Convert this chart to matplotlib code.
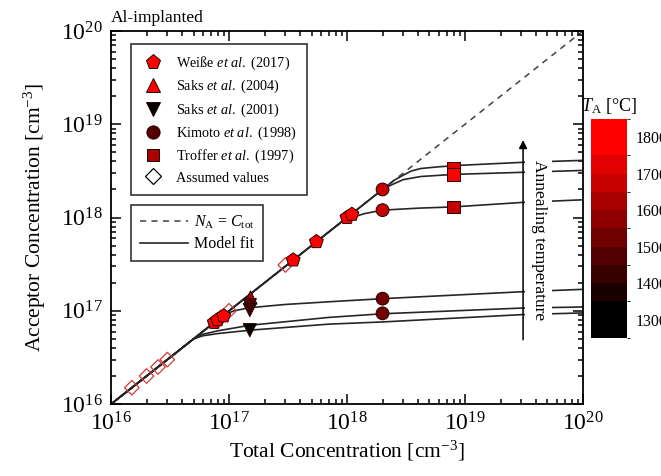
import numpy as np
import matplotlib
matplotlib.use("Agg")
import matplotlib.pyplot as plt
from matplotlib.lines import Line2D
from matplotlib.colors import ListedColormap, BoundaryNorm
from matplotlib.cm import ScalarMappable

plt.rcParams['font.family'] = ['Liberation Serif', 'DejaVu Serif']
plt.rcParams['mathtext.fontset'] = 'custom'
plt.rcParams['mathtext.rm'] = 'Liberation Serif'
plt.rcParams['mathtext.it'] = 'Liberation Serif:italic'
plt.rcParams['mathtext.bf'] = 'Liberation Serif:bold'

# Data points (total concentration, acceptor concentration, annealing temperature)
weisse_x = [7.5e16, 8.0e16, 9.0e16, 3.5e17, 5.5e17, 1.0e18, 1.1e18]
weisse_y = [7.5e16, 8.0e16, 8.8e16, 3.5e17, 5.5e17, 1.0e18, 1.08e18]
weisse_T = [1800, 1800, 1800, 1800, 1800, 1800, 1800]

saks04_x = [1.5e17]
saks04_y = [1.4e17]
saks04_T = [1600]

saks01_x = [1.5e17, 1.5e17, 1.5e17]
saks01_y = [1.15e17, 1.02e17, 6.2e16]
saks01_T = [1450, 1400, 1300]

kimoto_x = [2e18, 2e18, 2e18, 2e18]
kimoto_y = [2.0e18, 1.2e18, 1.35e17, 9.4e16]
kimoto_T = [1650, 1650, 1500, 1500]

troffer_x = [8e18, 8e18, 8e18]
troffer_y = [3.4e18, 2.9e18, 1.3e18]
troffer_T = [1700, 1800, 1650]

assumed_x = [1.5e16, 2.0e16, 2.5e16, 3.0e16, 8.5e16, 1.0e17, 3.0e17]
assumed_y = [1.5e16, 2.0e16, 2.5e16, 3.0e16, 8.5e16, 1.0e17, 3.1e17]

# Model fit curves
fit_curves = [
    ([1e16, 2.5e18, 3.0e18, 3.5e18, 4.2e18, 6e18, 1e19, 3e19, 1e20],
     [1e16, 2.5e18, 2.85e18, 3.15e18, 3.35e18, 3.5e18, 3.65e18, 3.9e18, 4.1e18]),
    ([1e16, 2.0e18, 2.4e18, 3e18, 4.2e18, 8e18, 3e19, 1e20],
     [1e16, 2.0e18, 2.25e18, 2.55e18, 2.75e18, 2.9e18, 3.05e18, 3.2e18]),
    ([1e16, 9e17, 1.1e18, 1.4e18, 2e18, 4e18, 8e18, 3e19, 1e20],
     [1e16, 9e17, 1.0e18, 1.1e18, 1.2e18, 1.26e18, 1.3e18, 1.45e18, 1.55e18]),
    ([1e16, 9e16, 1.1e17, 1.5e17, 3e17, 7e17, 2e18, 3e19, 1e20],
     [1e16, 9e16, 1.0e17, 1.08e17, 1.17e17, 1.25e17, 1.35e17, 1.6e17, 1.7e17]),
    ([1e16, 5e16, 6e16, 8e16, 1.5e17, 7e17, 2e18, 3e19, 1e20],
     [1e16, 5e16, 5.6e16, 6.1e16, 7.0e16, 8.5e16, 9.3e16, 1.07e17, 1.1e17]),
    ([1e16, 5e16, 6e16, 8e16, 1.5e17, 7e17, 2e18, 3e19, 1e20],
     [1e16, 5e16, 5.4e16, 5.7e16, 6.2e16, 7.2e16, 7.6e16, 9.1e16, 9.5e16]),
]

# colour scale for annealing temperature
cbar_bounds = [1250, 1350, 1400, 1450, 1500, 1550, 1600, 1650, 1700, 1750, 1850]
cbar_ticks = [1300, 1400, 1500, 1600, 1700, 1800]
cmap = ListedColormap([(i / 9, 0, 0) for i in range(10)])
norm = BoundaryNorm(cbar_bounds, cmap.N)

fig = plt.figure(figsize=(6.61, 4.76), dpi=100)
ax = fig.add_axes([0.168, 0.151, 0.714, 0.784])
ax.set_xscale('log')
ax.set_yscale('log')
ax.set_xlim(1e16, 1e20)
ax.set_ylim(1e16, 1e20)

ax.plot([1e16, 1e20], [1e16, 1e20], ls=(0, (4, 3.5)), color='0.25', lw=1.1, zorder=1)
for cx, cy in fit_curves:
    ax.plot(cx, cy, color='0.15', lw=1.2, zorder=2)

ec = '#2a0000'
ax.scatter(assumed_x, assumed_y, marker='D', s=55, facecolor='none', edgecolor='#d03a3a', lw=0.9, zorder=3)
ax.scatter(weisse_x, weisse_y, marker='p', s=110, c=weisse_T, cmap=cmap, norm=norm, edgecolor=ec, lw=0.7, zorder=4)
ax.scatter(saks04_x, saks04_y, marker='^', s=90, c=saks04_T, cmap=cmap, norm=norm, edgecolor=ec, lw=0.7, zorder=4)
ax.scatter(saks01_x, saks01_y, marker='v', s=90, c=saks01_T, cmap=cmap, norm=norm, edgecolor=ec, lw=0.7, zorder=4)
ax.scatter(kimoto_x, kimoto_y, marker='o', s=85, c=kimoto_T, cmap=cmap, norm=norm, edgecolor=ec, lw=0.7, zorder=4)
ax.scatter(troffer_x, troffer_y, marker='s', s=80, c=troffer_T, cmap=cmap, norm=norm, edgecolor=ec, lw=0.7, zorder=4)

for s in ax.spines.values():
    s.set_linewidth(1.3)
ax.tick_params(which='both', direction='in', top=True, right=True, labelsize=17, width=1.1)
ax.tick_params(which='major', length=7, pad=6)
ax.tick_params(which='minor', length=3.5)
ax.set_xlabel('Total Concentration [cm$^{-3}$]', fontsize=15.5, labelpad=2)
ax.set_ylabel('Acceptor Concentration [cm$^{-3}$]', fontsize=15.5, labelpad=9)
ax.text(0.0, 1.012, 'Al-implanted', transform=ax.transAxes, fontsize=12.5, ha='left', va='bottom')

# arrow and annotation
ax.annotate('', xy=(0.873, 0.715), xytext=(0.873, 0.165), xycoords='axes fraction',
            arrowprops=dict(arrowstyle='-|>', color='black', lw=1.1, mutation_scale=12))
ax.text(0.906, 0.44, 'Annealing temperature', transform=ax.transAxes, rotation=-90,
        fontsize=12.5, ha='center', va='center', zorder=6,
        bbox=dict(facecolor='white', edgecolor='none', pad=4))

# legends
mk = dict(ls='none', mec=ec, mew=0.7)
handles1 = [
    Line2D([], [], marker='p', ms=11, mfc=cmap(norm(1800)), label='Weiße $\\mathit{et}$ $\\mathit{al.}$ (2017)', **mk),
    Line2D([], [], marker='^', ms=10, mfc=cmap(norm(1800)), label='Saks $\\mathit{et}$ $\\mathit{al.}$ (2004)', **mk),
    Line2D([], [], marker='v', ms=10, mfc='black', label='Saks $\\mathit{et}$ $\\mathit{al.}$ (2001)', **mk),
    Line2D([], [], marker='o', ms=9.5, mfc=cmap(norm(1450)), label='Kimoto $\\mathit{et}$ $\\mathit{al.}$ (1998)', **mk),
    Line2D([], [], marker='s', ms=9, mfc=cmap(norm(1600)), label='Troffer $\\mathit{et}$ $\\mathit{al.}$ (1997)', **mk),
    Line2D([], [], marker='D', ms=8, mfc='white', mec='black', mew=0.9, ls='none', label='Assumed values'),
]
leg1 = ax.legend(handles=handles1, loc='upper left', bbox_to_anchor=(0.042, 0.965), borderaxespad=0,
                 fontsize=10.3, frameon=True, fancybox=False, edgecolor='0.2', framealpha=1,
                 labelspacing=0.42, handletextpad=0.8, borderpad=0.75, handlelength=1.6)
leg1.get_frame().set_linewidth(1.2)
ax.add_artist(leg1)

handles2 = [
    Line2D([], [], ls=(0, (4, 3.5)), color='0.25', lw=1.1, label='$N_\\mathrm{A}$ = $C_\\mathrm{tot}$'),
    Line2D([], [], ls='-', color='0.15', lw=1.2, label='Model fit'),
]
leg2 = ax.legend(handles=handles2, loc='upper left', bbox_to_anchor=(0.042, 0.533), borderaxespad=0,
                 fontsize=11.5, frameon=True, fancybox=False, edgecolor='0.2', framealpha=1,
                 labelspacing=0.3, handletextpad=0.4, borderpad=0.55, handlelength=3.0)
leg2.get_frame().set_linewidth(1.2)

# colorbar
cax = fig.add_axes([0.894, 0.29, 0.0545, 0.46])
cb = fig.colorbar(ScalarMappable(norm=norm, cmap=cmap), cax=cax, ticks=cbar_ticks, spacing='proportional')
cb.outline.set_visible(False)
cax.tick_params(length=0, labelsize=11.5, pad=6)
cax.set_title('$T_\\mathrm{A}$ [°C]', fontsize=13, pad=6)

fig.savefig('out.png', dpi=100)
